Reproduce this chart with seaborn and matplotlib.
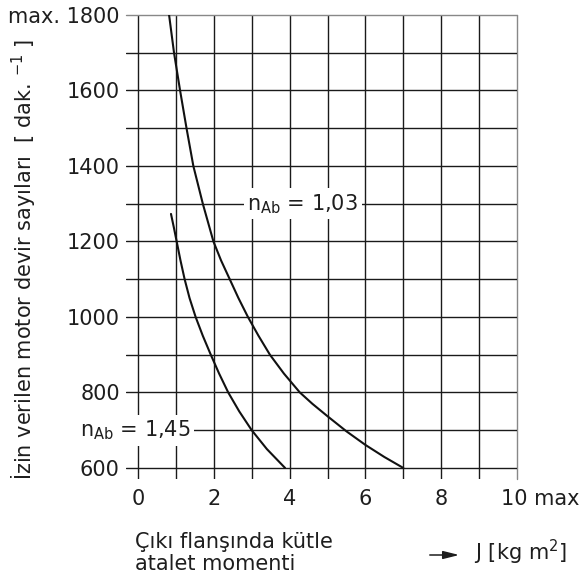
import numpy as np
import pandas as pd
import seaborn as sns
import matplotlib
matplotlib.use("Agg")
import matplotlib.pyplot as plt

# ---- data ----
j_103 = [0.82, 0.95, 1.11, 1.28, 1.46, 1.71, 1.99, 2.19, 2.42, 2.65, 2.90, 3.18, 3.48, 3.85, 4.27,
         4.60, 5.0, 5.5, 6.0, 6.5, 7.0]
n_103 = [1800, 1700, 1600, 1500, 1400, 1300, 1200, 1150, 1100, 1050, 1000, 950, 900, 850, 800,
         770, 737, 697, 661, 629, 600]
j_145 = [0.87, 0.95, 1.02, 1.12, 1.23, 1.36, 1.52, 1.71, 1.92, 2.14, 2.38, 2.67, 3.0, 3.40, 3.88]
n_145 = [1273, 1235, 1200, 1150, 1100, 1050, 1000, 950, 900, 850, 800, 750, 700, 650, 600]

x_ticks = [0, 1, 2, 3, 4, 5, 6, 7, 8, 9, 10]
x_tick_labels = ["0", "", "2", "", "4", "", "6", "", "8", "", ""]
y_ticks = [600, 700, 800, 900, 1000, 1100, 1200, 1300, 1400, 1500, 1600, 1700, 1800]
y_tick_labels = ["600", "", "800", "", "1000", "", "1200", "", "1400", "", "1600", "", "max. 1800"]

label_103 = r"n$_{\mathrm{Ab}}$ = 1,03"
label_145 = r"n$_{\mathrm{Ab}}$ = 1,45"
y_label = "İzin verilen motor devir sayıları  [ dak. $^{-1}$ ]"
x_label = "Çıkı flanşında kütle\natalet momenti"
unit_label = "J [kg m$^2$]"

sns.set_theme(style="white")
plt.rcParams["font.family"] = ["DejaVu Sans"]
plt.rcParams["mathtext.fontset"] = "dejavusans"
FS = 15
TXT = "#1e1e1e"

W, H = 581, 579
fig = plt.figure(figsize=(W / 100, H / 100), dpi=100)
L, R, T, B = 126, 517, 15, 479
ax = fig.add_axes([L / W, 1 - B / H, (R - L) / W, (B - T) / H])

df1 = pd.DataFrame({"J": j_103, "n": n_103})
df2 = pd.DataFrame({"J": j_145, "n": n_145})
sns.lineplot(data=df1, x="J", y="n", sort=False, estimator=None, color="#111111", lw=1.5, ax=ax, zorder=3)
sns.lineplot(data=df2, x="J", y="n", sort=False, estimator=None, color="#111111", lw=1.5, ax=ax, zorder=3)

ax.set_xlim(-0.317, 10)
ax.set_ylim(570.7, 1800)
ax.set_xticks(x_ticks)
ax.set_xticklabels(x_tick_labels, fontsize=FS)
ax.set_yticks(y_ticks)
ax.set_yticklabels(y_tick_labels, fontsize=FS)
ax.tick_params(axis="both", length=0, colors=TXT)
ax.tick_params(axis="x", pad=7)
ax.tick_params(axis="y", pad=4.5)
ax.set_xlabel("")
ax.set_ylabel("")
for s in ax.spines.values():
    s.set_visible(False)

ax.grid(True, color="#1a1a1a", lw=1.0)
ax.set_axisbelow(True)
xg = ax.get_xgridlines()
yg = ax.get_ygridlines()
xg[-1].set_color("#888888")
yg[-1].set_color("#888888")
xg[-1].set_clip_on(False)
yg[-1].set_clip_on(False)

ax.annotate("10 max", xy=(10, 0), xycoords=("data", "axes fraction"),
            xytext=(-11.5, -7), textcoords="offset points",
            ha="left", va="top", fontsize=FS, color=TXT, annotation_clip=False)

box = dict(facecolor="white", edgecolor="none", pad=2.5)
ax.text(4.35, 1300, label_103, ha="center", va="center", fontsize=FS,
        color=TXT, bbox=box, zorder=5)
ax.text(-0.08, 700, label_145, ha="center", va="center", fontsize=FS,
        color=TXT, bbox=box, zorder=5, clip_on=False)

fig.text(24 / W, 1 - 259.5 / H, y_label, rotation=90, ha="center", va="center",
         fontsize=FS, color=TXT)
fig.text(135 / W, 1 - 532 / H, x_label, ha="left", va="top", fontsize=FS,
         color=TXT, linespacing=1.1)
fig.text(474 / W, 1 - 560 / H, unit_label, ha="left", va="baseline", fontsize=FS,
         color=TXT)
ax.annotate("", xy=(462, H - 555), xycoords="figure pixels",
            xytext=(427, H - 555), textcoords="figure pixels",
            arrowprops=dict(arrowstyle="-|>,head_length=0.8,head_width=0.2",
                            color=TXT, lw=1.1))

fig.savefig("out.png", dpi=100)
